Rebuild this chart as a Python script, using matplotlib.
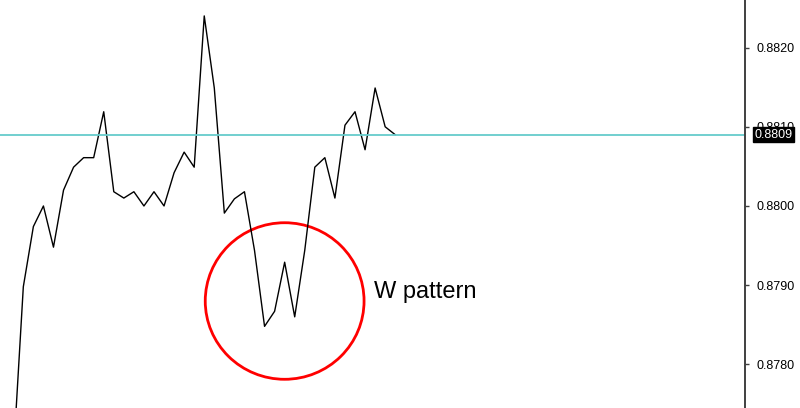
import numpy as np
import matplotlib
matplotlib.use("Agg")
import matplotlib.pyplot as plt
from matplotlib.patches import Ellipse

plt.rcParams['font.family'] = ['Liberation Sans', 'DejaVu Sans']

# цены закрытия
prices = [0.87682, 0.87898, 0.87974, 0.88000, 0.87948, 0.88020, 0.88049,
          0.88061, 0.88061, 0.88119, 0.88018, 0.88010, 0.88018, 0.88000,
          0.88018, 0.88000, 0.88042, 0.88068, 0.88049, 0.88240, 0.88149,
          0.87991, 0.88009, 0.88018, 0.87944, 0.87848, 0.87867, 0.87929,
          0.87860, 0.87944, 0.88049, 0.88061, 0.88010, 0.88102, 0.88119,
          0.88071, 0.88149, 0.88100, 0.88090]
yticks = [0.8780, 0.8790, 0.8800, 0.8810, 0.8820]
last_price = 0.8809
label = "W pattern"

x = np.arange(len(prices))

fig = plt.figure(figsize=(8, 4.08), dpi=100)
ax = fig.add_axes([0, 0, 0.93125, 1])

ax.plot(x, prices, color='black', lw=1.0)
ax.axhline(last_price, color='#66CCCC', lw=1.3)

# круг вокруг W-образной фигуры
ell = Ellipse((27, 0.87880), width=15.8, height=0.001977, fill=False,
              edgecolor='#FF0000', lw=2.0)
ax.add_patch(ell)
ax.text(35.9, 0.878835, label, fontsize=17, color='black', va='baseline')

ax.set_xlim(-1.32, 72.8)
ax.set_ylim(0.877449, 0.882601)

for s in ['left', 'top', 'bottom']:
    ax.spines[s].set_visible(False)
ax.spines['right'].set_color('#404040')
ax.spines['right'].set_linewidth(1.4)

ax.set_xticks([])
ax.yaxis.tick_right()
ax.set_yticks(yticks)
ax.set_yticklabels([f"{t:.4f}" for t in yticks])
ax.tick_params(axis='y', direction='out', length=3, width=1, color='#404040',
               labelsize=9, pad=5)

# метка последней цены
ax.annotate(f"{last_price:.4f}", xy=(1.0, last_price),
            xycoords=('axes fraction', 'data'),
            xytext=(6.5, 0), textcoords='offset points',
            ha='left', va='center', fontsize=9, color='white',
            bbox=dict(boxstyle='square,pad=0.12', fc='black', ec='black'),
            annotation_clip=False, zorder=10)

fig.savefig('out.png', dpi=100)
